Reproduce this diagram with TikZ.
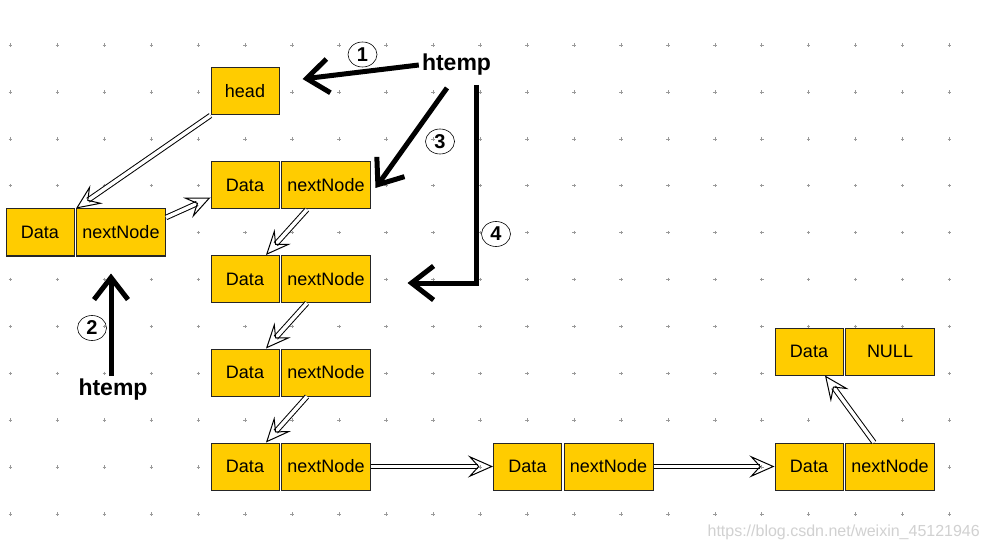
\documentclass[tikz,border=0pt]{standalone}
\usepackage{fontspec}
\setmainfont{Liberation Sans}
\usetikzlibrary{arrows.meta,positioning,shapes.geometric}
\definecolor{cellgold}{HTML}{FFCC00}
\definecolor{gridgray}{HTML}{9A9A9A}

\begin{document}
\begin{tikzpicture}[
                 x = 1pt, y = -1pt,
        cell/.style = {draw=black!85, line width=1pt, fill=cellgold, minimum height=47pt,
                       inner sep=0pt, font=\fontsize{18}{20}\selectfont},
    datacell/.style = {cell, minimum width=68pt},
    nextcell/.style = {cell, minimum width=89pt},
        link/.style = {draw, line width=1pt, double, double distance=3.5pt,
                       -{Stealth[open, length=25pt, width=22pt, inset=10pt]}},
     pointer/.style = {draw, line width=5pt, -{Straight Barb[length=22pt, width=34pt]}},
    tempname/.style = {inner sep=3pt, font=\fontsize{23}{25}\selectfont\bfseries},
    stepmark/.style = {ellipse, draw, line width=0.6pt, minimum width=29pt, minimum height=25pt,
                       inner sep=0pt, font=\fontsize{20}{20}\selectfont\bfseries},
                   ]
\useasboundingbox (0,0) rectangle (988,548);
\fill[white] (0,0) rectangle (988,548);
% grid marks
\foreach \i in {0,...,20}
  \foreach \j in {0,...,10}
    \draw[gridgray, line width=0.5pt] (10.5+46.95*\i,45+46.9*\j)
      +(-1.8,0) -- +(1.8,0) +(0,-1.8) -- +(0,1.8);

% list cells
\node[datacell] (head) at (245,91.5) {head};
\node[datacell] (n1d) at (40,232.5) {Data};
\node[nextcell, right=1.5pt of n1d] (n1n) {nextNode};
\node[datacell] (n2d) at (245,185.5) {Data};
\node[nextcell, right=1.5pt of n2d] (n2n) {nextNode};
\node[datacell] (n3d) at (245,279) {Data};
\node[nextcell, right=1.5pt of n3d] (n3n) {nextNode};
\node[datacell] (n4d) at (245,372.5) {Data};
\node[nextcell, right=1.5pt of n4d] (n4n) {nextNode};
\node[datacell] (n5d) at (245,466.5) {Data};
\node[nextcell, right=1.5pt of n5d] (n5n) {nextNode};
\node[datacell] (n6d) at (527.5,466.5) {Data};
\node[nextcell, right=1.5pt of n6d] (n6n) {nextNode};
\node[datacell] (n7d) at (809,466.5) {Data};
\node[nextcell, right=1.5pt of n7d] (n7n) {nextNode};
\node[datacell] (n8d) at (809,351.5) {Data};
\node[nextcell, right=1.5pt of n8d] (n8n) {NULL};

% links
\draw[link] (head.south west) -- (n1n.north west);
\draw[link] ([yshift=15pt]n1n.east) -- ([yshift=-12pt]n2d.west);
\draw[link] ([xshift=-19pt]n2n.south) -- ([xshift=21pt]n3d.north);
\draw[link] ([xshift=-19pt]n3n.south) -- ([xshift=21pt]n4d.north);
\draw[link] ([xshift=-19pt]n4n.south) -- ([xshift=21pt]n5d.north);
\draw[link] (n5n.east) -- (n6d.west);
\draw[link] (n6n.east) -- (n7d.west);
\draw[link] ([xshift=-16pt]n7n.north) -- ([xshift=16pt]n8d.south);

% htemp pointers
\node[tempname] (ht1) at (456.5,65) {htemp};
\node[tempname] (ht2) at (113,390) {htemp};
\draw[pointer] (ht1.west) -- ([xshift=23pt,yshift=12.5pt]head.east);
\draw[pointer] ([xshift=-2pt]ht2.north) -- ([xshift=-10pt,yshift=-17pt]n1n.south);
\draw[pointer] ([xshift=-9.5pt,yshift=-9pt]ht1.south) -- ([xshift=4.5pt,yshift=-2.5pt]n2n.east);
\draw[pointer] ([xshift=19.5pt,yshift=-6pt]ht1.south) |- ([xshift=36.5pt,yshift=-4pt]n3n.east);

% step numbers
\node[stepmark] (c1) at (362.5,54.5) {1};
\node[stepmark] (c2) at (92,328) {2};
\node[stepmark] (c3) at (440,141.5) {3};
\node[stepmark] (c4) at (496,234) {4};

\node[anchor=base east, inner sep=0pt, text=black!18, font=\fontsize{16}{17}\selectfont] (mark)
  at (980,536) {https://blog.csdn.net/weixin\_45121946};
\end{tikzpicture}
\end{document}
